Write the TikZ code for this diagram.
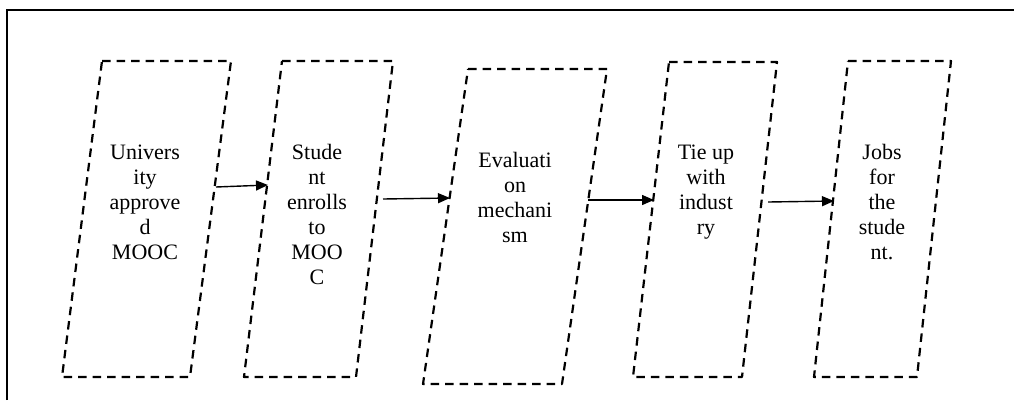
\documentclass[tikz,border=0pt]{standalone}
\usepackage{fontspec}
\setmainfont{Liberation Serif}
\usetikzlibrary{arrows.meta}
\tikzset{
  frameline/.style={line width=1.8pt},
  stepshape/.style={line width=2.2pt, dash pattern=on 8.5pt off 6pt, line join=round},
  steptext/.style={anchor=base, align=center, inner sep=0pt, font=\fontsize{22}{25}\selectfont},
  flowarrow/.style={line width=1.4pt, -{Triangle[length=12pt,width=10pt]}}
}
\begin{document}
\begin{tikzpicture}[x=1pt,y=-1pt]
\useasboundingbox (0,0) rectangle (1014,400);
% outer frame (left and top only)
\draw[frameline] (7,400) -- (7,10) -- (1014,10);
% shapes
\draw[stepshape] (102,61) -- (231,61) -- (190,377) -- (62,377) -- cycle;
\draw[stepshape] (282,61) -- (393,61) -- (356,377) -- (244,377) -- cycle;
\draw[stepshape] (468,69) -- (607,69) -- (562,384) -- (423,384) -- cycle;
\draw[stepshape] (669,62) -- (777,62) -- (742,377) -- (633,377) -- cycle;
\draw[stepshape] (848,61) -- (951,61) -- (917,377) -- (814,377) -- cycle;
% texts (anchor = baseline of last line)
\node[steptext] (t1) at (145,259) {Univers\\ity\\approve\\d\\MOOC};
\node[steptext] (t2) at (317,284) {Stude\\nt\\enrolls\\to\\MOO\\C};
\node[steptext] (t3) at (515,242) {Evaluati\\on\\mechani\\sm};
\node[steptext] (t4) at (706,234) {Tie up\\with\\indust\\ry};
\node[steptext] (t5) at (882,259) {Jobs\\for\\the\\stude\\nt.};
% connector endpoints
\coordinate (o1) at (216,187); \coordinate (i2) at (268,185);
\coordinate (o2) at (383,199); \coordinate (i3) at (450,198);
\coordinate (o3) at (588,200); \coordinate (i4) at (654,200);
\coordinate (o4) at (768,202); \coordinate (i5) at (834,201);
\draw[flowarrow] (o1) -- (i2);
\draw[flowarrow] (o2) -- (i3);
\draw[flowarrow] (o3) -- (i4);
\draw[flowarrow] (o4) -- (i5);
\end{tikzpicture}
\end{document}
